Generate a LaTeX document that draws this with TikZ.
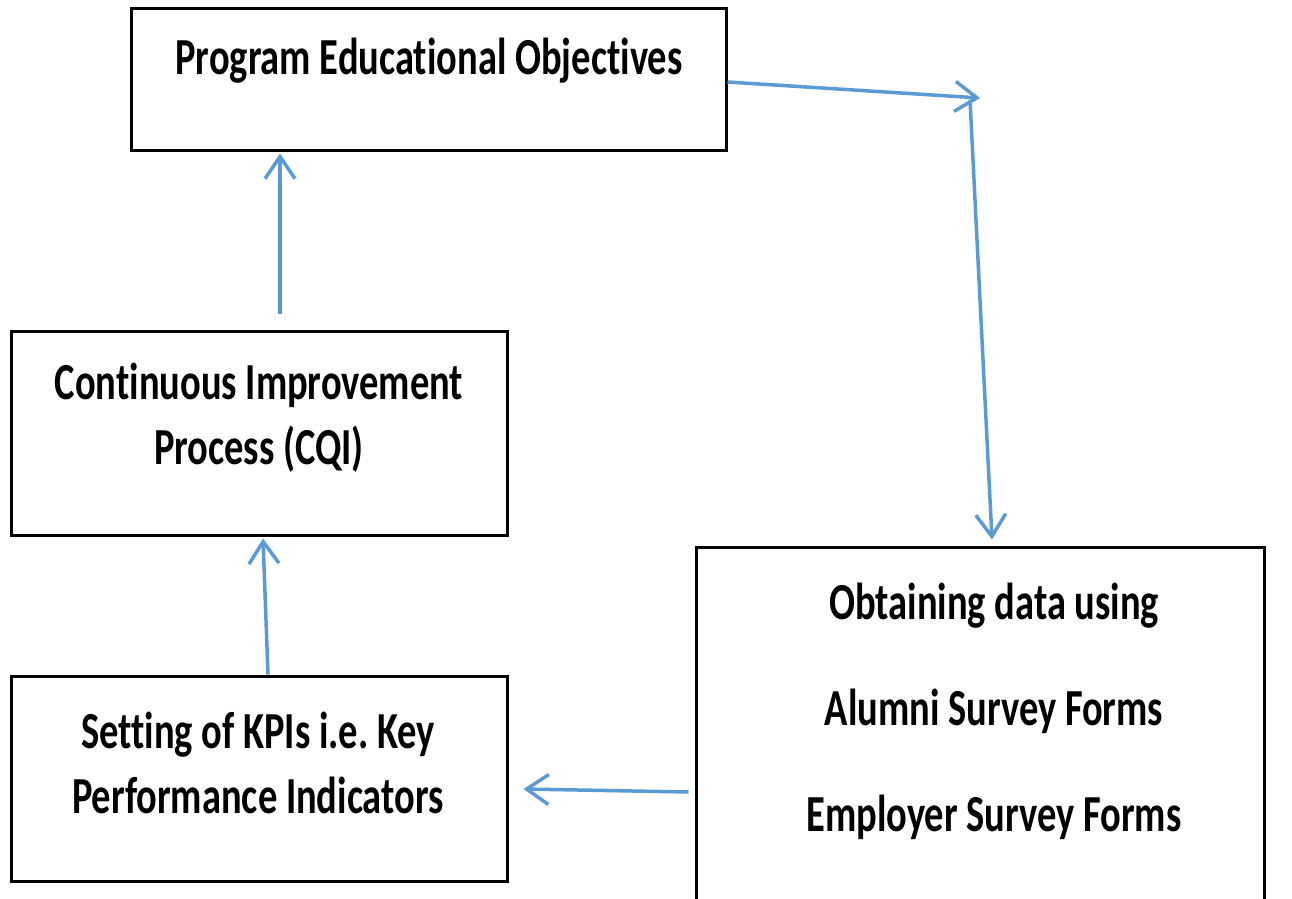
\documentclass[tikz,border=0pt]{standalone}
\usepackage{fontspec}
\setmainfont{Carlito}[FakeStretch=0.74, Ligatures=NoCommon]
\usepackage{xcolor}
\usepackage{tikz}
\usetikzlibrary{arrows.meta,positioning}
\definecolor{flowblue}{RGB}{91,155,213}
\frenchspacing

\begin{document}
\begin{tikzpicture}[x=1pt,y=-1pt]
 \tikzset{box/.style={rectangle, draw, line width=3pt, inner sep=0pt},
  boxtext/.style={align=center, inner sep=0pt, font=\bfseries\fontsize{52}{65}\selectfont},
  flow/.style={flowblue, line width=3.5pt, -{Straight Barb[length=22pt,width=30pt]}}}
  \useasboundingbox (0,0) rectangle (1292,898);
  % boxes
  \node[box, minimum width=595pt, minimum height=142pt] (peo) at (428.5,79) {};
  \node[box, minimum width=496pt, minimum height=204pt] (cqi) at (259,433) {};
  \node[box, minimum width=496pt, minimum height=205pt] (kpi) at (259,778.5) {};
  \node[box, minimum width=568pt, minimum height=373pt] (data) at (980,733.5) {};
  % texts
  \node[boxtext] (peoText) at (429,61) {Program Educational Objectives};
  \node[boxtext] (cqiText) at (259,418) {Continuous Improvement\\Process (CQI)};
  \node[boxtext] (kpiText) at (258,763) {Setting of KPIs i.e. Key\\Performance Indicators};
  \node[boxtext, font=\bfseries\fontsize{52}{106}\selectfont] (dataText) at (994,711) {Obtaining data using\\Alumni Survey Forms\\Employer Survey Forms};
  % arrows
  \coordinate (turnIn) at (980,98);
  \coordinate (turnOut) at (970,100);
  \draw[flow] ([yshift=-3pt]peo.east) -- (turnIn);
  \draw[flow] (turnOut) -- ([xshift=12pt,yshift=6pt]data.north);
  \draw[flow] ([xshift=-6pt,yshift=-58.5pt]data.west) -- ([xshift=15pt,yshift=-10.5pt]kpi.east);
  \draw[flow] ([xshift=9pt]kpi.north) -- ([xshift=4pt,yshift=-2pt]cqi.south);
  \draw[flow] ([xshift=21pt,yshift=16pt]cqi.north) -- ([xshift=-148.5pt,yshift=-2pt]peo.south);
\end{tikzpicture}
\end{document}
